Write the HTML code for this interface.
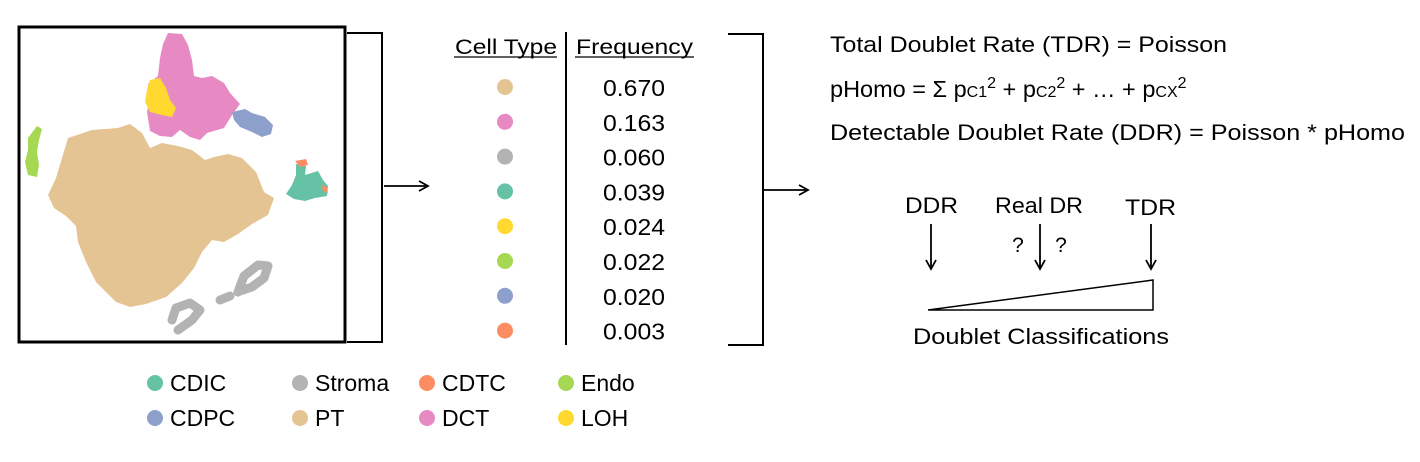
<!DOCTYPE html>
<html><head><meta charset="utf-8"><style>
html,body{margin:0;padding:0;background:#fff;}
svg{display:block;font-family:"Liberation Sans",Arial,sans-serif;}
</style></head><body>
<svg id="fig" width="1420" height="462" viewBox="0 0 1420 462">
<defs>
<marker id="ah" markerWidth="12" markerHeight="12" refX="10" refY="6" orient="auto" markerUnits="userSpaceOnUse">
<path d="M1,1 L10,6 L1,11" fill="none" stroke="#000" stroke-width="1.8"/>
</marker>
</defs>
<g>
<rect x="19" y="27" width="326" height="315" fill="#fff" stroke="#000" stroke-width="3"/>
<path fill="#e5c494" d="M68,138 L92,130 L118,128 L130,124 L142,133 L150,148 L162,143 L178,146 L192,150 L205,160 L214,157 L228,154 L242,158 L256,172 L264,192 L274,198 L268,215 L252,224 L238,234 L224,242 L212,240 L202,252 L194,268 L182,283 L166,297 L146,304 L130,307 L116,302 L106,292 L96,282 L86,262 L78,242 L76,226 L66,216 L54,208 L48,195 L56,178 L62,158 Z"/>
<path fill="#e78ac3" d="M168,33 L182,34 L188,45 L192,60 L194,76 L202,78 L212,76 L224,83 L230,93 L240,104 L232,115 L224,128 L207,133 L200,140 L190,137 L180,130 L172,137 L160,136 L150,131 L147,112 L150,98 L148,84 L158,76 L160,58 L163,44 Z"/>
<path fill="#ffd92f" d="M150,80 L160,78 L166,88 L170,100 L176,108 L172,117 L162,115 L150,112 L145,102 L147,90 Z"/>
<path fill="#8da0cb" d="M232,112 L245,109 L252,113 L265,117 L273,125 L271,134 L262,137 L252,132 L240,127 L234,120 Z"/>
<path fill="#a6d854" d="M37,126 L42,129 L39,140 L37,152 L39,165 L37,177 L28,175 L25,162 L28,150 L28,138 Z"/>
<path fill="#66c2a5" d="M296,164 L306,166 L305,175 L318,171 L323,180 L328,186 L327,196 L315,198 L305,201 L294,199 L286,194 L292,185 L296,175 Z"/>
<path fill="#fc8d62" d="M295,161 L306,159 L308,165 L300,167 Z M322,185 L327,187 L328,193 L323,191 Z"/>
<path fill="none" stroke="#b3b3b3" stroke-width="9" stroke-linejoin="round" stroke-linecap="round" d="M172,320 L176,308 L190,303 L200,310 L192,320 L178,330 M220,300 L230,296 M238,292 L244,276 L258,265 L268,266 L264,278 L252,287 L240,291"/>
</g>
<g fill="none" stroke="#000" stroke-width="2">
<path d="M347,33 L382,33 L382,342 L347,342"/>
</g>
<line x1="384" y1="186" x2="428" y2="186" stroke="#000" stroke-width="1.8" marker-end="url(#ah)"/>
<g>
<text x="455" y="54" font-size="21" textLength="102" lengthAdjust="spacingAndGlyphs">Cell Type</text>
<line x1="454" y1="57" x2="557" y2="57" stroke="#000" stroke-width="1.2"/>
<text x="576" y="54" font-size="21" textLength="117" lengthAdjust="spacingAndGlyphs">Frequency</text>
<line x1="575" y1="57" x2="694" y2="57" stroke="#000" stroke-width="1.2"/>
<line x1="566" y1="32" x2="566" y2="345" stroke="#000" stroke-width="2"/>
<g id="rows"></g>
</g>
<g fill="none" stroke="#000" stroke-width="2">
<path d="M728,34 L763,34 L763,345 L728,345"/>
</g>
<line x1="764" y1="190" x2="808" y2="190" stroke="#000" stroke-width="1.8" marker-end="url(#ah)"/>
<g font-size="22">
<text x="830" y="52" textLength="397" lengthAdjust="spacingAndGlyphs">Total Doublet Rate (TDR) = Poisson</text>
<text x="830" y="97" font-size="23.5">pHomo = Σ p<tspan font-size="16">C1</tspan><tspan font-size="16" dy="-9">2</tspan><tspan dy="9"> + p</tspan><tspan font-size="16">C2</tspan><tspan font-size="16" dy="-9">2</tspan><tspan dy="9"> + … + p</tspan><tspan font-size="16">CX</tspan><tspan font-size="16" dy="-9">2</tspan></text>
<text x="830" y="140" textLength="575" lengthAdjust="spacingAndGlyphs">Detectable Doublet Rate (DDR) = Poisson * pHomo</text>
</g>
<g>
<text x="905" y="213" font-size="22" textLength="53" lengthAdjust="spacingAndGlyphs">DDR</text>
<text x="995" y="213" font-size="22" textLength="88" lengthAdjust="spacingAndGlyphs">Real DR</text>
<text x="1125" y="215" font-size="22" textLength="51" lengthAdjust="spacingAndGlyphs">TDR</text>
<text x="1018" y="252" font-size="21" text-anchor="middle">?</text>
<text x="1061" y="252" font-size="21" text-anchor="middle">?</text>
<g stroke="#000" stroke-width="1.8" fill="none">
<line x1="931" y1="224" x2="931" y2="269" marker-end="url(#ah)"/>
<line x1="1040" y1="224" x2="1040" y2="269" marker-end="url(#ah)"/>
<line x1="1151" y1="224" x2="1151" y2="269" marker-end="url(#ah)"/>
<path d="M928,310 L1153,280 L1153,310 Z" stroke-width="1.5"/>
</g>
<text x="913" y="344" font-size="22" textLength="256" lengthAdjust="spacingAndGlyphs">Doublet Classifications</text>
</g>
<g font-size="23" id="legend"></g>
</svg>
<script>
var cellColors=["#e5c494","#e78ac3","#b3b3b3","#66c2a5","#ffd92f","#a6d854","#8da0cb","#fc8d62"];
var frequencies=[0.670,0.163,0.060,0.039,0.024,0.022,0.020,0.003];
var legendNames=["CDIC","Stroma","CDTC","Endo","CDPC","PT","DCT","LOH"];
var legendColors=["#66c2a5","#b3b3b3","#fc8d62","#a6d854","#8da0cb","#e5c494","#e78ac3","#ffd92f"];
var NS="http://www.w3.org/2000/svg";
var rows=document.getElementById('rows');
function rowY(i){return 87+i*34.8;}
frequencies.forEach(function(f,i){
  var c=document.createElementNS(NS,'circle');
  c.setAttribute('cx',505);c.setAttribute('cy',rowY(i));c.setAttribute('r',8);c.setAttribute('fill',cellColors[i]);
  
  
  rows.appendChild(c);
  var t=document.createElementNS(NS,'text');
  t.setAttribute('x',603);t.setAttribute('y',rowY(i)+9);t.setAttribute('font-size',23);
  t.setAttribute('textLength',62);t.setAttribute('lengthAdjust','spacingAndGlyphs');
  t.textContent=f.toFixed(3);
  
  
  rows.appendChild(t);
});
var lg=document.getElementById('legend');
var colX=[155,300,427,566];
legendNames.forEach(function(n,i){
  var col=i%4,row=Math.floor(i/4);
  var x=colX[col],y=383+row*35;
  var c=document.createElementNS(NS,'circle');
  c.setAttribute('cx',x);c.setAttribute('cy',y);c.setAttribute('r',8);c.setAttribute('fill',legendColors[i]);
  
  
  lg.appendChild(c);
  var t=document.createElementNS(NS,'text');
  t.setAttribute('x',x+15);t.setAttribute('y',y+8);
  t.textContent=n;
  
  
  lg.appendChild(t);
});
</script>
</body></html>
